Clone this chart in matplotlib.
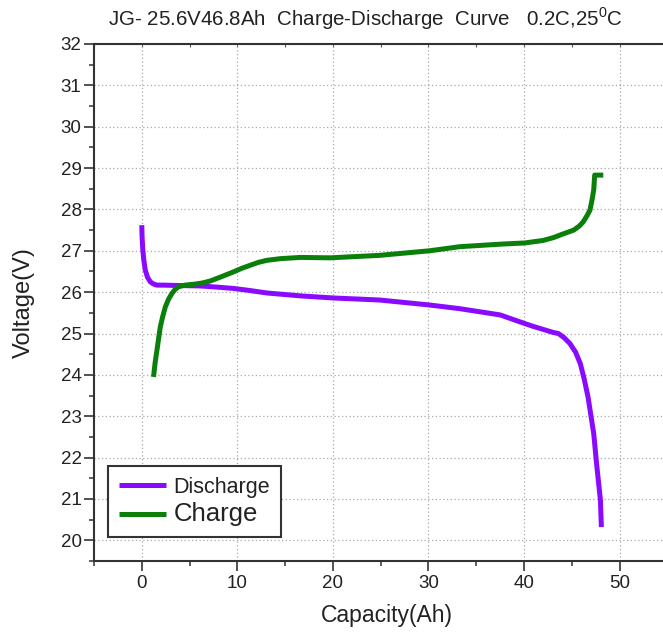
import matplotlib
matplotlib.use("Agg")
import matplotlib.pyplot as plt
from matplotlib import font_manager
from matplotlib.ticker import MultipleLocator

# ---- data ----
discharge_cap = [0.0, 0.03, 0.1, 0.2, 0.37, 0.6, 0.89, 1.2, 1.59, 2.28, 4.0, 6.12, 8.0,
                 9.6, 11.3, 13.1, 16.6, 20.0, 24.9, 30.1, 33.3, 37.5, 40.1, 41.0, 42.0,
                 43.0, 43.6, 44.2, 44.8, 45.4, 45.9, 46.3, 46.7, 47.3, 47.6, 48.0, 48.1]
discharge_v = [27.62, 27.35, 27.05, 26.8, 26.53, 26.36, 26.25, 26.2, 26.17, 26.17, 26.16,
               26.15, 26.12, 26.09, 26.04, 25.98, 25.91, 25.86, 25.81, 25.69, 25.60,
               25.45, 25.24, 25.17, 25.10, 25.03, 25.0, 24.9, 24.76, 24.55, 24.27,
               23.9, 23.47, 22.58, 21.85, 20.97, 20.32]

charge_cap = [1.23, 1.4, 1.59, 1.94, 2.2, 2.46, 2.8, 3.16, 3.5, 3.85, 4.5, 5.42, 6.3,
              7.17, 8.4, 9.6, 10.5, 11.35, 12.2, 13.1, 14.5, 16.6, 19.7, 24.9, 30.1,
              33.3, 37.5, 40.1, 42.0, 43.1, 44.0, 45.2, 45.8, 46.2, 46.6, 46.9, 47.1,
              47.3, 47.4, 48.3]
charge_v = [23.95, 24.3, 24.6, 25.16, 25.42, 25.64, 25.83, 25.97, 26.07, 26.13, 26.17,
            26.19, 26.22, 26.27, 26.38, 26.49, 26.58, 26.65, 26.72, 26.77, 26.81, 26.84,
            26.83, 26.89, 27.0, 27.1, 27.16, 27.19, 27.25, 27.32, 27.4, 27.5, 27.6,
            27.7, 27.85, 27.98, 28.2, 28.47, 28.83, 28.83]

series_labels = ["Discharge", "Charge"]
x_ticks = [0, 10, 20, 30, 40, 50]
y_ticks = list(range(20, 33))
title = r"JG- 25.6V46.8Ah  Charge-Discharge  Curve   0.2C,25$^{\mathrm{0}}$C"
x_label = "Capacity(Ah)"
y_label = "Voltage(V)"

# ---- fonts ----
names = {f.name for f in font_manager.fontManager.ttflist}
REG = "Liberation Sans" if "Liberation Sans" in names else "DejaVu Sans"
NARROW = "Liberation Sans Narrow" if "Liberation Sans Narrow" in names else REG
plt.rcParams["font.family"] = [REG, "DejaVu Sans"]
plt.rcParams["mathtext.fontset"] = "custom"
plt.rcParams["mathtext.rm"] = NARROW

W, H = 663, 632
fig = plt.figure(figsize=(W / 100, H / 100), dpi=100)
left_px, right_px, top_px, bot_px = 94, 663, 44, 561
ax = fig.add_axes([left_px / W, 1 - bot_px / H, (right_px - left_px) / W, (bot_px - top_px) / H])

c_dis = "#8a0aff"
c_chg = "#0a800a"
ax.plot(discharge_cap, discharge_v, color=c_dis, lw=3.6, solid_capstyle="butt",
        solid_joinstyle="round", label=series_labels[0], zorder=3)
ax.plot(charge_cap, charge_v, color=c_chg, lw=3.6, solid_capstyle="butt",
        solid_joinstyle="round", label=series_labels[1], zorder=3)

ax.set_xlim(-5, 54.55)
ax.set_ylim(19.5, 32)
ax.set_xticks(x_ticks)
ax.set_yticks(y_ticks)
ax.xaxis.set_minor_locator(MultipleLocator(5))
ax.yaxis.set_minor_locator(MultipleLocator(0.5))

ax.grid(True, which="major", color="#a8a8a8", lw=0.9, ls=(0, (1, 2)))
ax.set_axisbelow(True)

for s in ("left", "bottom", "top"):
    ax.spines[s].set_linewidth(1.5)
    ax.spines[s].set_color("#333333")
ax.spines["right"].set_visible(False)

ax.tick_params(axis="both", which="major", direction="out", length=7, width=1.2,
               color="#333333", labelsize=13.5, labelcolor="#222222")
ax.tick_params(axis="both", which="minor", direction="out", length=3.6, width=1.1,
               color="#333333")
ax.tick_params(axis="y", pad=2)
ax.tick_params(axis="x", pad=3)

sec = ax.secondary_xaxis("top")
sec.set_xticks(x_ticks)
sec.xaxis.set_minor_locator(MultipleLocator(5))
sec.tick_params(axis="x", which="both", direction="in", length=2.5, width=0.8,
                labeltop=False, color="#555555")
sec.spines["top"].set_visible(False)

leg = ax.legend(loc="lower left", bbox_to_anchor=(0.0246, 0.0464), borderaxespad=0,
                fancybox=False, framealpha=1, edgecolor="#333333",
                prop={"family": [NARROW, REG], "size": 15.5},
                handlelength=2.2, handletextpad=0.35, borderpad=0.5,
                labelspacing=0.2)
leg.get_frame().set_linewidth(1.5)
leg.get_texts()[1].set_fontsize(18.5)
for t in leg.get_texts():
    t.set_color("#222222")

fig.text(365 / W, 1 - 26 / H, title, ha="center", va="baseline", fontsize=14.8,
         family=[NARROW, REG], color="#222222")
fig.text(387 / W, 1 - 622 / H, x_label, ha="center", va="baseline", fontsize=16.5,
         color="#222222")
fig.text(24 / W, 1 - 303 / H, y_label, ha="center", va="center", rotation=90,
         fontsize=17, color="#222222")

fig.savefig("out.png", dpi=100, facecolor="white")
